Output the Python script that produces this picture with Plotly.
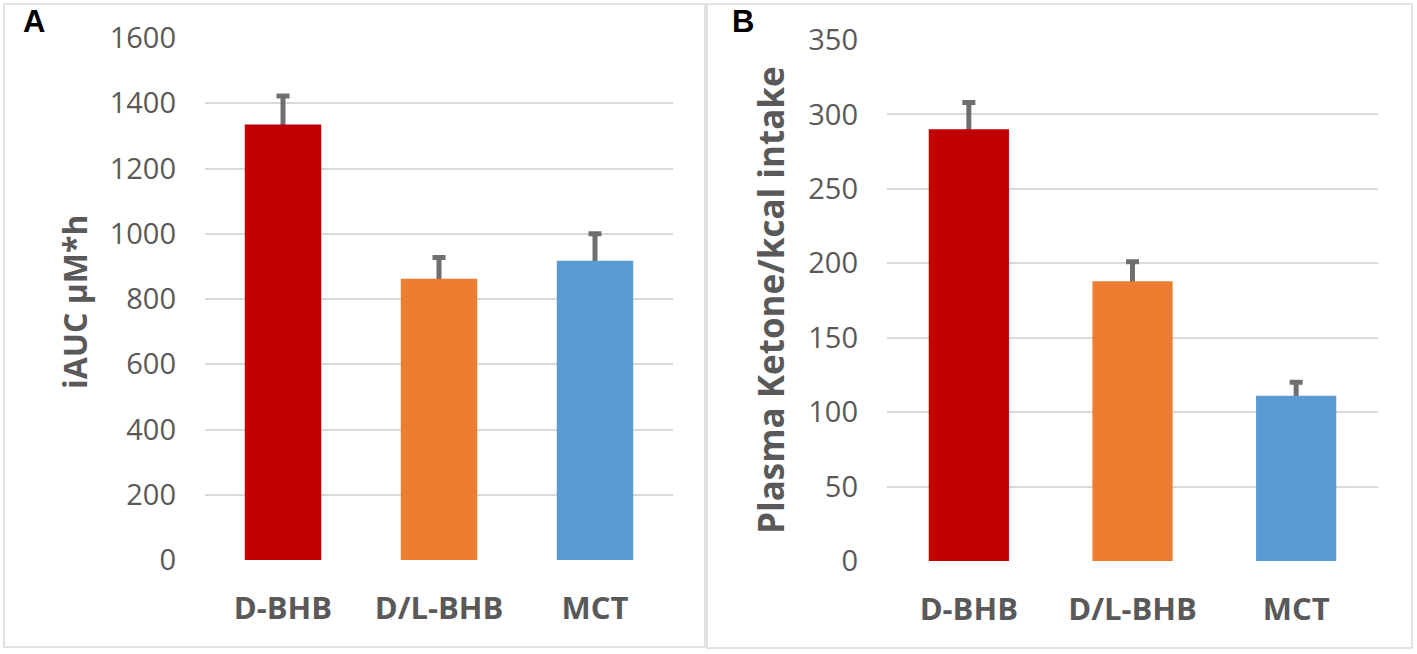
import plotly.graph_objects as go

categories = ["D-BHB", "D/L-BHB", "MCT"]
colors = ["#C00000", "#ED7D31", "#5B9BD5"]

auc_values = [1335, 862, 917]
auc_errors = [87, 65, 83]
auc_ticks = [0, 200, 400, 600, 800, 1000, 1200, 1400, 1600]

ketone_values = [290, 188, 111]
ketone_errors = [18, 13, 9]
ketone_ticks = [0, 50, 100, 150, 200, 250, 300, 350]

W, H = 1417, 654
def px(x):
    return x / W
def py(y):
    return 1 - y / H

GRAY = "#595959"
GRID = "#d9d9d9"
ERR = "#6f6f6f"

fig = go.Figure()
# error bars on base axes (drawn below), bars on overlaying axes (drawn above)
fig.add_trace(go.Scatter(
    x=categories, y=auc_values, mode="markers", marker=dict(opacity=0, size=1),
    error_y=dict(type="data", array=auc_errors, symmetric=True,
                 color=ERR, thickness=5, width=6.5),
    xaxis="x", yaxis="y", showlegend=False, hoverinfo="skip",
))
fig.add_trace(go.Bar(
    x=categories, y=auc_values, marker=dict(color=colors, line=dict(width=0)),
    xaxis="x", yaxis="y3", showlegend=False, width=0.49,
))
fig.add_trace(go.Scatter(
    x=categories, y=ketone_values, mode="markers", marker=dict(opacity=0, size=1),
    error_y=dict(type="data", array=ketone_errors, symmetric=True,
                 color=ERR, thickness=5, width=6.5),
    xaxis="x2", yaxis="y2", showlegend=False, hoverinfo="skip",
))
fig.add_trace(go.Bar(
    x=categories, y=ketone_values, marker=dict(color=colors, line=dict(width=0)),
    xaxis="x2", yaxis="y4", showlegend=False, width=0.49,
))

tickfont = dict(family="Open Sans", size=29, color=GRAY)
xfont = dict(family="Open Sans", size=31, color=GRAY, weight="bold")

common_y = dict(showgrid=True, gridcolor=GRID, gridwidth=1.5, zeroline=False,
                showline=False, ticks="", tickfont=tickfont, ticklabelstandoff=28,
                automargin=False)
common_x = dict(showgrid=False, zeroline=False, showline=False, ticks="",
                tickfont=xfont, ticklabelstandoff=27, automargin=False)
overlay_y = dict(showgrid=False, zeroline=False, showline=False, ticks="",
                 showticklabels=False, automargin=False)

fig.update_layout(
    template="none",
    width=W, height=H, margin=dict(l=0, r=0, t=0, b=0, pad=0, autoexpand=False),
    paper_bgcolor="white", plot_bgcolor="white",
    xaxis=dict(domain=[px(205), px(673)], anchor="y", **common_x),
    yaxis=dict(domain=[py(560), py(38)], anchor="x", range=[0, 1600],
               tickvals=auc_ticks, **common_y),
    yaxis3=dict(overlaying="y", anchor="x", range=[0, 1600], **overlay_y),
    xaxis2=dict(domain=[px(887), px(1378)], anchor="y2", **common_x),
    yaxis2=dict(domain=[py(561), py(40)], anchor="x2", range=[0, 350],
                tickvals=ketone_ticks, **common_y),
    yaxis4=dict(overlaying="y2", anchor="x2", range=[0, 350], **overlay_y),
    shapes=[
        dict(type="rect", xref="paper", yref="paper", x0=px(4), x1=px(705),
             y0=py(647), y1=py(4), line=dict(color=GRID, width=1.5)),
        dict(type="rect", xref="paper", yref="paper", x0=px(707), x1=px(1412),
             y0=py(648), y1=py(4), line=dict(color=GRID, width=1.5)),
    ],
    annotations=[
        dict(text="A", x=px(34), y=py(21), xref="paper", yref="paper", showarrow=False,
             xanchor="center", yanchor="middle",
             font=dict(family="Liberation Sans", size=31, color="black", weight="bold")),
        dict(text="B", x=px(743), y=py(21), xref="paper", yref="paper", showarrow=False,
             xanchor="center", yanchor="middle",
             font=dict(family="Liberation Sans", size=31, color="black", weight="bold")),
        dict(text="iAUC µM*h", x=px(74), y=py(302), xref="paper", yref="paper",
             showarrow=False, textangle=-90, xanchor="center", yanchor="middle",
             font=dict(family="Open Sans", size=32, color=GRAY, weight="bold")),
        dict(text="Plasma Ketone/kcal intake", x=px(770), y=py(300), xref="paper",
             yref="paper", showarrow=False, textangle=-90, xanchor="center",
             yanchor="middle",
             font=dict(family="Open Sans", size=35, color=GRAY, weight="bold")),
    ],
)

fig.write_html("out.html", config={"displayModeBar": False},
               post_script="document.body.style.margin='0px';document.body.style.overflow='hidden';")
